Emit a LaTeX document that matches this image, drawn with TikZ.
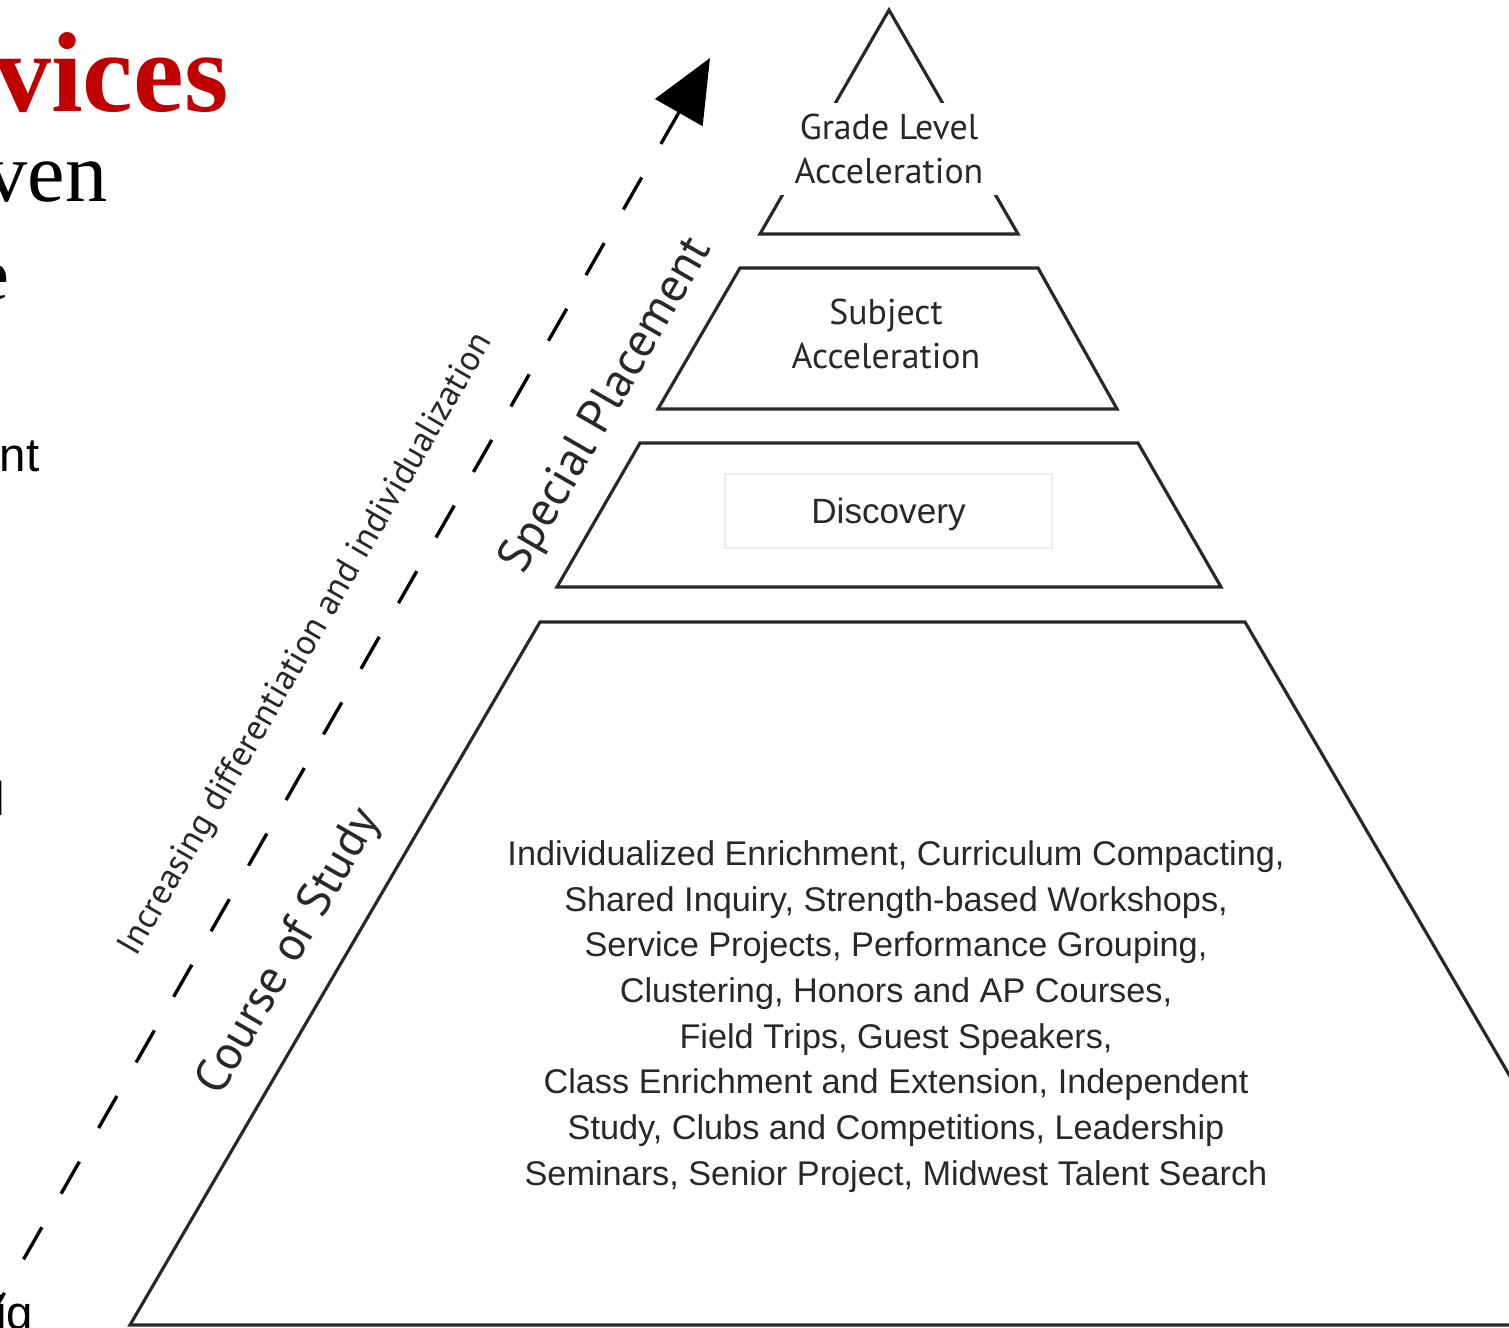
\documentclass[tikz,border=0pt]{standalone}
\usepackage{fontspec}
\setmainfont{Liberation Sans}
\newfontfamily\ptsans{PT Sans}
\newfontfamily\slideserif{Liberation Serif}
\usetikzlibrary{positioning,arrows.meta}
\definecolor{slidered}{RGB}{192,0,0}
\definecolor{inkgray}{RGB}{40,40,40}

\begin{document}
\begin{tikzpicture}[tier/.style={draw=inkgray,line width=0.9pt},
  tierlabel/.style={font=\ptsans\fontsize{10.2}{12.5}\selectfont,text=inkgray,align=center,inner sep=0pt},
  sidelabel/.style={font=\ptsans\fontsize{13.7}{16}\selectfont,text=inkgray,rotate=60},
  slidetext/.style={inner sep=0pt,anchor=base east}]

\useasboundingbox (0,0) rectangle (15.09,13.28);
\clip (0,0) rectangle (15.09,13.28);

%slide text cut by the picture edge
\node[slidetext,font=\slideserif\bfseries\fontsize{32.4}{36}\selectfont,text=slidered] (title) at (2.29,12.16) {vices};
\node[slidetext,font=\slideserif\fontsize{24}{28}\selectfont] (ven) at (1.08,11.26) {ven};
\node[slidetext,font=\slideserif\fontsize{21}{26}\selectfont] (e) at (0.10,10.28) {e};
\node[slidetext,font=\fontsize{13.5}{16}\selectfont] (nt) at (0.40,8.56) {nt};
\node[slidetext,font=\fontsize{13.5}{16}\selectfont] (l) at (0.06,5.12) {l};
\node[slidetext,font=\fontsize{13.5}{16}\selectfont] (ig) at (0.34,-0.02) {ig};

%tiers
\draw[tier] (8.89,13.18) -- (10.18,10.94) -- (7.60,10.94) -- cycle;
\draw[tier] (7.40,10.60) -- (10.38,10.60) -- (11.17,9.19) -- (6.58,9.19) -- cycle;
\draw[tier] (6.40,8.85) -- (11.38,8.85) -- (12.21,7.41) -- (5.57,7.41) -- cycle;
\draw[tier] (5.40,7.06) -- (12.45,7.06) -- (16.55,0.03) -- (1.30,0.03) -- cycle;

%tier labels
\node[tierlabel,fill=white,minimum width=2.4cm,minimum height=0.92cm] (grade) at (8.89,11.79) {Grade Level\\Acceleration};
\node[tierlabel] (subject) at (8.86,9.94) {Subject\\Acceleration};
\node[draw=black!7,minimum width=3.27cm,minimum height=0.74cm,text depth=0pt,font=\fontsize{10}{12}\selectfont,text=inkgray] (discovery) at (8.885,8.17) {Discovery};
\node[align=center,font=\fontsize{9.75}{13}\selectfont,text=inkgray] (services) at (8.96,3.115) {Individualized Enrichment, Curriculum Compacting,\\
  Shared Inquiry, Strength-based Workshops,\\
  Service Projects, Performance Grouping,\\
  Clustering, Honors and AP Courses,\\
  Field Trips, Guest Speakers,\\
  Class Enrichment and Extension, Independent\\
  Study, Clubs and Competitions, Leadership\\
  Seminars, Senior Project, Midwest Talent Search};

%side labels
\node[sidelabel] (special) at (6.07,9.22) {Special Placement};
\node[sidelabel] (course) at (2.90,3.76) {Course of Study};
\node[sidelabel,font=\ptsans\fontsize{10.1}{12}\selectfont] (increasing) at (3.07,6.83) {Increasing differentiation and individualization};

%arrow
\coordinate (arrowtip) at (7.10,12.70);
\coordinate (arrowtail) at (-0.225,-0.12);
\draw[line width=0.95pt,dash pattern=on 10.5pt off 11pt,{Triangle[length=17.9pt,width=15.4pt]}-] (arrowtip) -- (arrowtail);
\end{tikzpicture}
\end{document}
